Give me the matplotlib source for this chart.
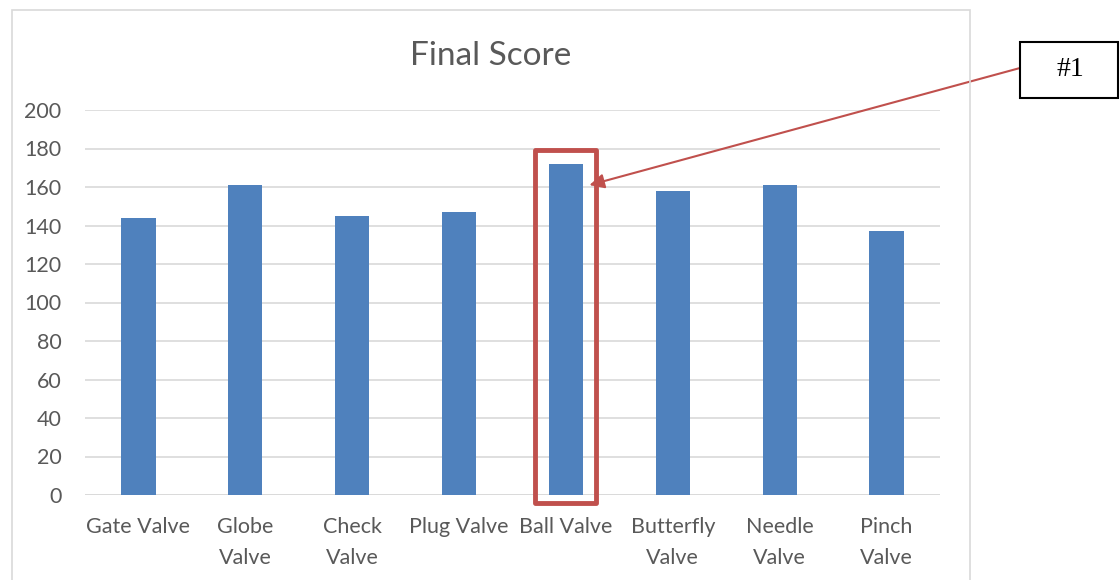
import matplotlib.pyplot as plt
from matplotlib.patches import Rectangle

categories = ["Gate Valve", "Globe\nValve", "Check\nValve", "Plug Valve",
              "Ball Valve", "Butterfly\nValve", "Needle\nValve", "Pinch\nValve"]
scores = [144, 161, 145, 147, 172, 158, 161, 137]
yticks = [0, 20, 40, 60, 80, 100, 120, 140, 160, 180, 200]
best = 4  # index of Ball Valve

W, H = 1120, 580
fig = plt.figure(figsize=(W / 100, H / 100), dpi=100)
plt.rcParams['font.family'] = ['Lato', 'DejaVu Sans']

def fx(px):
    return px / W

def fy(py):
    return 1 - py / H

ax = fig.add_axes([fx(85), fy(495), fx(940) - fx(85), fy(110) - fy(495)])
x = list(range(len(categories)))
ax.bar(x, scores, width=0.32, color='#4F81BD', zorder=3)
ax.set_xlim(-0.5, len(categories) - 0.5)
ax.set_ylim(0, 200)
ax.set_yticks(yticks)
ax.set_xticks(x)
ax.set_xticklabels(categories, linespacing=1.65)
ax.tick_params(axis='both', length=0, labelsize=15.5, colors='#595959')
ax.tick_params(axis='y', pad=17)
ax.tick_params(axis='x', pad=16)
ax.grid(axis='y', color='#D9D9D9', lw=1.2, zorder=0)
for s in ax.spines.values():
    s.set_visible(False)
ax.axhline(0, color='#D9D9D9', lw=1.2, zorder=2)

# chart frame
fig.patches.append(Rectangle((fx(12), fy(600)), fx(970) - fx(12), fy(10) - fy(600),
                             transform=fig.transFigure, fill=False,
                             edgecolor='#D9D9D9', lw=1.2))

fig.text(fx(491), fy(56), "Final Score", ha='center', va='center',
         fontsize=24, color='#595959')

# highlight box around the best bar
ax.add_patch(Rectangle((best - 0.285, -4.2), 0.57, 183.4, fill=False,
                       edgecolor='#C0504D', lw=3.5, clip_on=False, zorder=4,
                       joinstyle='round'))

# callout
fig.patches.append(Rectangle((fx(1020), fy(98)), fx(1120) - fx(1020) - 0.002, fy(42) - fy(98),
                             transform=fig.transFigure, fill=False,
                             edgecolor='black', lw=1.5))
fig.text(fx(1070), fy(70), "#1", ha='center', va='center', fontsize=20,
         family='Liberation Serif', color='black')
ax.annotate('', xy=(best + 0.22, 161), xycoords='data',
            xytext=(fx(1020), fy(68)), textcoords='figure fraction',
            arrowprops=dict(arrowstyle='-|>', color='#C0504D', lw=1.5,
                            mutation_scale=22, shrinkA=0, shrinkB=0),
            annotation_clip=False, zorder=5)

fig.savefig('out.png', dpi=100)
